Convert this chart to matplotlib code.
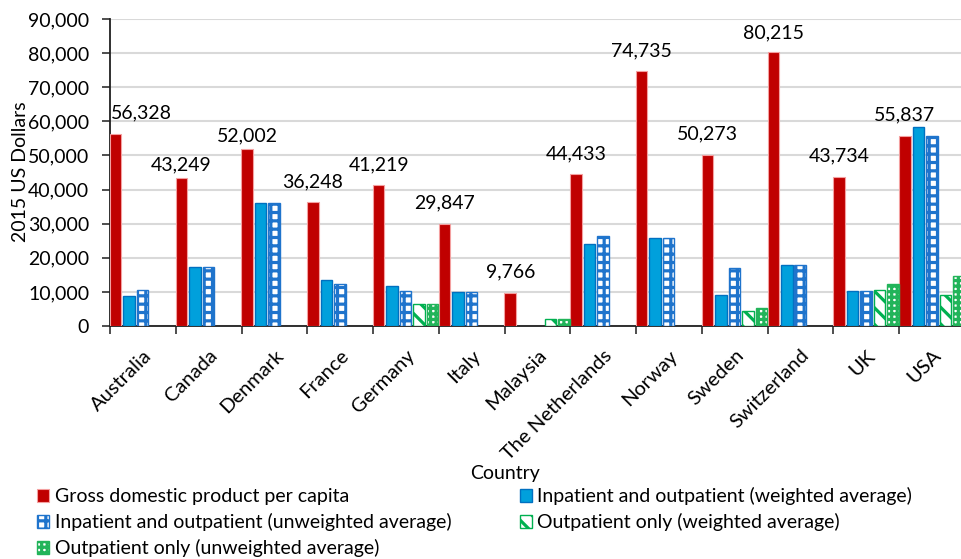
import numpy as np
import matplotlib
matplotlib.use("Agg")
import matplotlib.pyplot as plt
from matplotlib.patches import Patch
from matplotlib.transforms import ScaledTranslation

plt.rcParams['font.family'] = ['Lato', 'DejaVu Sans']
plt.rcParams['hatch.linewidth'] = 2.3

countries = ["Australia", "Canada", "Denmark", "France", "Germany", "Italy", "Malaysia",
             "The Netherlands", "Norway", "Sweden", "Switzerland", "UK", "USA"]
gdp = [56328, 43249, 52002, 36248, 41219, 29847, 9766, 44433, 74735, 50273, 80215, 43734, 55837]
inout_weighted = [8900, 17200, 36200, 13400, 11800, 9900, np.nan, 24100, 25700, 9100, 17900, 10300, 58200]
inout_unweighted = [10500, 17200, 36200, 12300, 10400, 10100, np.nan, 26400, 25700, 16900, 17900, 10300, 55700]
out_weighted = [np.nan, np.nan, np.nan, np.nan, 6550, np.nan, 2150, np.nan, np.nan, 4500, np.nan, 10600, 9100]
out_unweighted = [np.nan, np.nan, np.nan, np.nan, 6550, np.nan, 2150, np.nan, np.nan, 5200, np.nan, 12300, 14800]

series_names = ["Gross domestic product per capita",
                "Inpatient and outpatient (weighted average)",
                "Inpatient and outpatient (unweighted average)",
                "Outpatient only (weighted average)",
                "Outpatient only (unweighted average)"]
series = [gdp, inout_weighted, inout_unweighted, out_weighted, out_unweighted]

styles = [
    dict(facecolor="#C00000", edgecolor="#F4A0A0", hatch=None, lw=0.8),
    dict(facecolor="#00A0DC", edgecolor="#0070C0", hatch=None, lw=1.0),
    dict(facecolor="white", edgecolor="#1F74CC", hatch="++", lw=1.0),
    dict(facecolor="white", edgecolor="#00B050", hatch="\\\\", lw=1.0),
    dict(facecolor="white", edgecolor="#22B45A", hatch="+++", lw=1.0),
]

# label offsets in pixels (dx, dy) relative to top of GDP bar
label_off = [(26, 21), (0, 14), (0, 13), (0, 20), (0, 21), (0, 21), (0, 21),
             (0, 21), (0, 20), (0, 21), (0, 20), (0, 21), (0, 21)]

W, H = 962, 559
fig = plt.figure(figsize=(W / 100, H / 100), dpi=100)
ax = fig.add_axes([110 / W, (H - 326) / H, 855 / W, 307 / H])

x = np.arange(len(countries))
offsets = [-0.415, -0.21, -0.005, 0.2, 0.405]
width = 0.175
handles = []
for s, vals, off, st in zip(series_names, series, offsets, styles):
    ax.bar(x + off, vals, width=width, facecolor=st["facecolor"], edgecolor=st["edgecolor"],
           hatch=st["hatch"], linewidth=st["lw"], zorder=3)
    handles.append(Patch(facecolor=st["facecolor"], edgecolor=st["edgecolor"],
                         hatch=st["hatch"], linewidth=st["lw"], label=s))

for i, v in enumerate(gdp):
    dx, dy = label_off[i]
    ax.annotate(f"{v:,}", (x[i] + offsets[0], v), xytext=(dx, dy), textcoords="offset pixels",
                ha="center", va="center", fontsize=14, color="black")

ax.set_xlim(-0.5, len(countries) - 0.5)
ax.set_ylim(0, 90000)
ax.set_yticks(np.arange(0, 90001, 10000))
ax.set_yticklabels([f"{int(t):,}" for t in np.arange(0, 90001, 10000)], fontsize=14)
ax.yaxis.grid(True, color="#D9D9D9", linewidth=1.5, zorder=0)
ax.set_axisbelow(True)

ax.set_xticks(np.arange(-0.5, len(countries), 1.0))
ax.set_xticklabels([])
ax.set_xticks(x, minor=True)
ax.set_xticklabels(countries, minor=True, rotation=45, ha="right", rotation_mode="anchor",
                   fontsize=14.5)
shift = ScaledTranslation(-11 / 100, 0, fig.dpi_scale_trans)
for lab in ax.get_xticklabels(minor=True):
    lab.set_transform(lab.get_transform() + shift)
ax.tick_params(axis="x", which="minor", length=0, pad=15)
ax.tick_params(axis="x", which="major", length=6, width=1.3, color="#404040")
ax.tick_params(axis="y", length=6, width=1.3, color="#404040", pad=9)

for sp in ["top", "right"]:
    ax.spines[sp].set_visible(False)
ax.spines["left"].set_linewidth(1.3)
ax.spines["bottom"].set_linewidth(1.3)
ax.spines["left"].set_color("#202020")
ax.spines["bottom"].set_color("#202020")

fig.text(21 / W, 1 - 172 / H, "2015 US Dollars", rotation=90, ha="center", va="center", fontsize=14)
fig.text(505 / W, 1 - 473 / H, "Country", ha="center", va="center", fontsize=14)

order = [0, 2, 4, 1, 3]
fig.legend([handles[i] for i in order], [series_names[i] for i in order],
           loc="upper left", bbox_to_anchor=(37 / W, 1 - 487 / H), ncol=2, frameon=False,
           fontsize=14, handlelength=0.62, handleheight=0.62, handletextpad=0.3,
           columnspacing=3.5, labelspacing=0.41, borderpad=0, borderaxespad=0)

fig.savefig("out.png", dpi=100)
